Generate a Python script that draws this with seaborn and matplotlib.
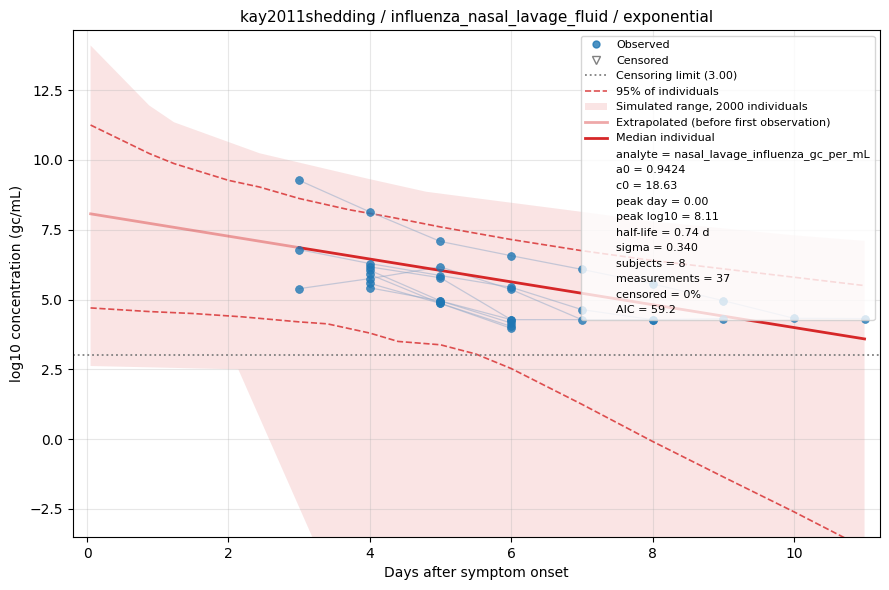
import numpy as np
import pandas as pd
import seaborn as sns
from matplotlib import pyplot as plt
from matplotlib.lines import Line2D
from matplotlib.patches import Patch

# observed measurements, one list per subject
subject_days = {
    "S1": [3, 4, 5, 6, 7, 8, 9, 10, 11],
    "S2": [3, 4, 5, 6, 7, 8, 9],
    "S3": [3, 4, 5, 6, 7],
    "S4": [4, 5, 6, 8],
    "S5": [4, 5, 6],
    "S6": [4, 5, 6],
    "S7": [4, 5, 6],
    "S8": [4, 5, 6],
}
subject_values = {
    "S1": [9.27, 8.14, 7.08, 6.57, 6.08, 5.56, 4.96, 4.33, 4.32],
    "S2": [6.79, 6.29, 5.86, 5.44, 4.64, 4.28, 4.32],
    "S3": [5.39, 5.75, 6.17, 5.36, 4.28],
    "S4": [6.17, 5.78, 4.28, 4.28],
    "S5": [6.05, 4.95, 4.16],
    "S6": [5.90, 4.86, 4.04],
    "S7": [5.58, 4.86, 3.97],
    "S8": [5.42, 4.95, 4.28],
}

censor_limit = 3.0
first_obs_day = 3

# median individual
median_days = [0.05, 3.0, 11.0]
median_values = [8.07, 6.86, 3.59]

# simulated range of 2000 individuals
band_upper_days = [0.05, 0.88, 1.23, 2.44, 3.95, 4.8, 6.97, 8.0, 9.0, 10.0, 11.0]
band_upper = [14.1, 11.95, 11.35, 10.24, 9.34, 8.86, 8.15, 7.8, 7.55, 7.3, 7.1]
band_lower_days = [0.05, 2.14, 3.5, 5.0, 7.0, 9.0, 11.0]
band_lower = [2.62, 2.5, -5.3, -9.0, -13.0, -17.0, -21.0]

# 95% of individuals
p95_days = [0.05, 0.88, 1.23, 2.0, 2.44, 3.0, 3.7, 4.3, 5.0, 6.0, 7.0, 8.0, 9.0, 10.0, 11.0]
p95_upper = [11.25, 10.23, 9.87, 9.27, 9.03, 8.62, 8.22, 7.95, 7.6, 7.15, 6.75, 6.4, 6.1, 5.8, 5.5]
p95_lower_days = [0.05, 0.88, 1.5, 2.2, 3.0, 3.4, 4.0, 4.4, 5.0, 5.5, 6.0, 7.0, 8.0, 9.0, 10.0, 11.0]
p95_lower = [4.7, 4.57, 4.5, 4.38, 4.2, 4.13, 3.8, 3.5, 3.38, 3.05, 2.53, 1.25, -0.08, -1.35, -2.6, -3.9]

stats_lines = [
    "analyte = nasal_lavage_influenza_gc_per_mL",
    "a0 = 0.9424",
    "c0 = 18.63",
    "peak day = 0.00",
    "peak log10 = 8.11",
    "half-life = 0.74 d",
    "sigma = 0.340",
    "subjects = 8",
    "measurements = 37",
    "censored = 0%",
    "AIC = 59.2",
]


def build_frame():
    rows = []
    for subj in subject_days:
        for d, v in zip(subject_days[subj], subject_values[subj]):
            rows.append({"subject": subj, "day": d, "log10": v})
    return pd.DataFrame(rows)


def main():
    df = build_frame()
    red = "#d62728"
    blue = "#1f77b4"

    fig, ax = plt.subplots(figsize=(8.89, 5.9), dpi=100)

    # band on a common grid
    grid = np.union1d(band_upper_days, band_lower_days)
    up = np.interp(grid, band_upper_days, band_upper)
    lo = np.interp(grid, band_lower_days, band_lower)
    ax.fill_between(grid, lo, up, color=red, alpha=0.12, linewidth=0)

    ax.plot(p95_days, p95_upper, color=red, ls="--", lw=1.2, alpha=0.8)
    ax.plot(p95_lower_days, p95_lower, color=red, ls="--", lw=1.2, alpha=0.8)

    ax.axhline(censor_limit, color="gray", ls=":", lw=1.3)

    sns.lineplot(data=df, x="day", y="log10", units="subject", estimator=None,
                 color="#8fa8c8", alpha=0.5, lw=0.9, ax=ax, legend=False)
    sns.scatterplot(data=df, x="day", y="log10", color=blue, alpha=0.8, s=32,
                    edgecolor=blue, linewidth=0.5, ax=ax, legend=False, zorder=3)

    md = np.array(median_days)
    mv = np.array(median_values)
    ax.plot(md[md <= first_obs_day], mv[md <= first_obs_day], color=red, alpha=0.4, lw=2)
    ax.plot(md[md >= first_obs_day], mv[md >= first_obs_day], color=red, lw=2)

    handles = [
        Line2D([], [], marker="o", ls="none", color=blue, alpha=0.8, markersize=5),
        Line2D([], [], marker="v", ls="none", markerfacecolor="none",
               markeredgecolor="gray", markersize=6),
        Line2D([], [], color="gray", ls=":", lw=1.3),
        Line2D([], [], color=red, ls="--", lw=1.2, alpha=0.8),
        Patch(facecolor=red, alpha=0.12, edgecolor="none"),
        Line2D([], [], color=red, alpha=0.4, lw=2),
        Line2D([], [], color=red, lw=2),
    ]
    labels = [
        "Observed",
        "Censored",
        f"Censoring limit ({censor_limit:.2f})",
        "95% of individuals",
        "Simulated range, 2000 individuals",
        "Extrapolated (before first observation)",
        "Median individual",
    ]
    for s in stats_lines:
        handles.append(Line2D([], [], color="none"))
        labels.append(s)
    ax.legend(handles, labels, loc="upper right", fontsize=8)

    ax.set_xlim(-0.2, 11.22)
    ax.set_ylim(-3.5, 14.65)
    ax.grid(True, alpha=0.3)
    ax.set_xlabel("Days after symptom onset")
    ax.set_ylabel("log10 concentration (gc/mL)")
    ax.set_title("kay2011shedding / influenza_nasal_lavage_fluid / exponential", fontsize=11)
    fig.subplots_adjust(left=0.082, right=0.99, top=0.949, bottom=0.09)
    fig.savefig("out.png", dpi=100)


if __name__ == "__main__":
    main()
